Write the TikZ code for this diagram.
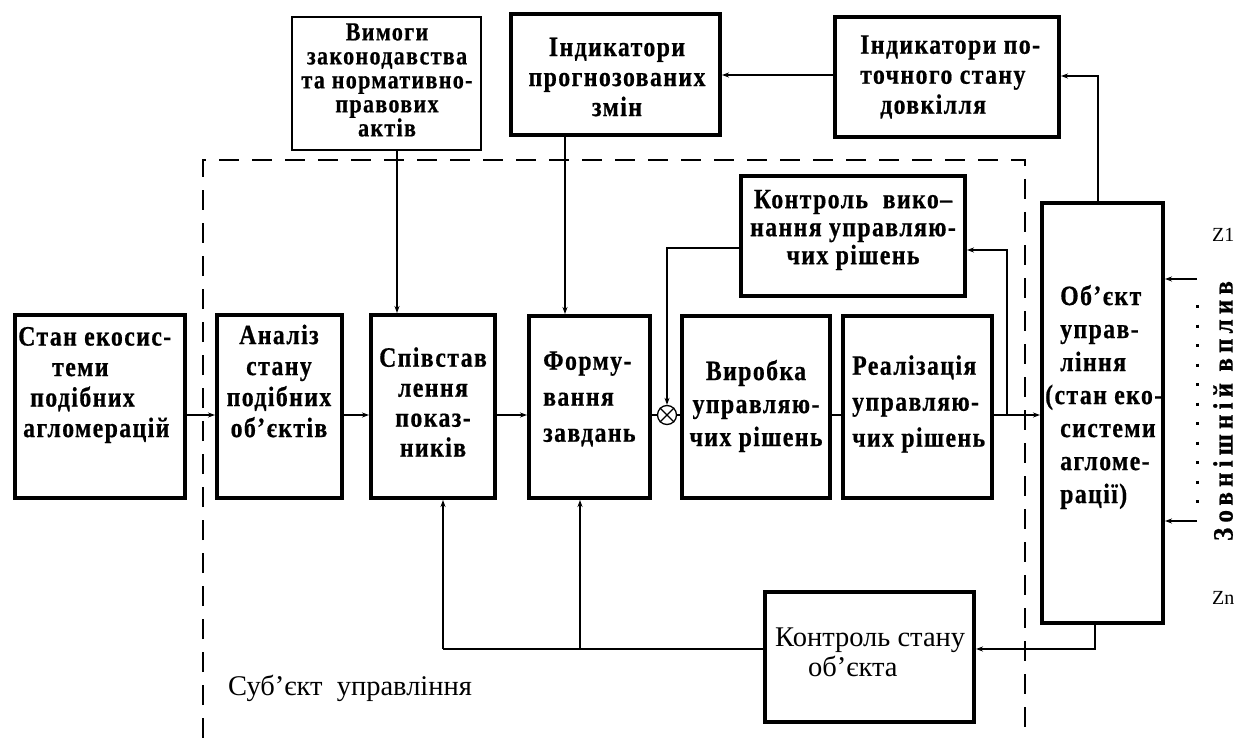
\documentclass[tikz,border=0pt]{standalone}
\usepackage{fontspec}
\setmainfont{Liberation Serif}
\newfontfamily\bxf{Liberation Serif}[FakeStretch=0.85,LetterSpace=5,BoldFeatures={FakeBold=0.6}]
\newfontfamily\vxf{Liberation Serif}[FakeStretch=0.9,LetterSpace=18,BoldFeatures={FakeBold=0.6}]
\usetikzlibrary{arrows.meta}
\begin{document}
\begin{tikzpicture}[x=1pt,y=-1pt,
  thickbox/.style={draw,line width=4pt,inner sep=0pt},
  thinbox/.style={draw,line width=2.8pt,inner sep=0pt},
  conn/.style={line width=1.3pt},
  arr/.style={conn,-{Stealth[length=7pt,width=5pt]}},
  btxt/.style={font=\bxf\bfseries\fontsize{28}{30}\selectfont,align=center,inner sep=0pt},
  ltxt/.style={btxt,align=left,anchor=west},
  rtxt/.style={font=\fontsize{28.5}{30}\selectfont,align=left,anchor=west,inner sep=0pt},
  frame/.style={line width=1.5pt,dash pattern=on 20pt off 13pt},
]
\useasboundingbox (0,0) rectangle (1237,738);

% dashed frame of the subject
\draw[frame] (203,738) -- (203,160) -- (1025,160) -- (1025,738);

% boxes
\node[thinbox,minimum width=189pt,minimum height=133pt] (vym) at (386.5,83.5) {};
\node[thickbox,minimum width=209pt,minimum height=121pt] (prog) at (615.5,74.5) {};
\node[thickbox,minimum width=224pt,minimum height=120pt] (poto) at (947,77) {};
\node[thickbox,minimum width=170pt,minimum height=183pt] (stan) at (100,406.5) {};
\node[thickbox,minimum width=125pt,minimum height=183pt] (anal) at (279.5,406.5) {};
\node[thickbox,minimum width=124pt,minimum height=183pt] (spiv) at (433,406.5) {};
\node[thickbox,minimum width=121pt,minimum height=182pt] (form) at (589.5,407) {};
\node[thickbox,minimum width=148pt,minimum height=182pt] (vyr) at (756,407) {};
\node[thickbox,minimum width=149pt,minimum height=182pt] (real) at (917.5,407) {};
\node[thickbox,minimum width=224pt,minimum height=120pt] (kvyk) at (853,236) {};
\node[thickbox,minimum width=121pt,minimum height=420pt] (obj) at (1102.5,413) {};
\node[thickbox,minimum width=209pt,minimum height=130pt] (kst) at (869.5,657) {};
\node[circle,draw,line width=1.3pt,minimum size=19pt,inner sep=0pt] (sum) at (667,415) {};
\draw[conn] (sum.north west) -- (sum.south east) (sum.north east) -- (sum.south west);

% texts
\node[btxt,font=\bxf\bfseries\fontsize{26}{24}\selectfont] (tvym) at (387,80) {Вимоги\\законодавства\\та нормативно-\\правових\\актів};
\node[btxt] (tprog) at (617,77) {Індикатори\\прогнозованих\\змін};
\node[ltxt] (tpoto) at (860,77) {Індикатори по-\\точного стану\\\hspace*{20pt}довкілля};
\node[ltxt,font=\bxf\bfseries\fontsize{28}{30.5}\selectfont] (tstan) at (18,385) {Стан екосис-\\\hspace*{34pt}теми\\\hspace*{12pt}подібних\\\hspace*{5pt}агломерацій};
\node[btxt,font=\bxf\bfseries\fontsize{28}{31}\selectfont] (tanal) at (279,381) {Аналіз\\стану\\подібних\\об’єктів};
\node[btxt] (tspiv) at (433,402) {Співстав\\лення\\показ-\\ників};
\node[ltxt,font=\bxf\bfseries\fontsize{28}{36}\selectfont] (tform) at (543,399) {Форму-\\вання\\завдань};
\node[btxt,font=\bxf\bfseries\fontsize{28}{33}\selectfont] (tvyr) at (756,406) {Виробка\\управляю-\\чих рішень};
\node[ltxt,font=\bxf\bfseries\fontsize{28}{36}\selectfont] (treal) at (852,404) {Реалізація\\управляю-\\чих рішень};
\node[btxt,font=\bxf\bfseries\fontsize{28}{28}\selectfont] (tkvyk) at (853,230) {Контроль~ вико–\\нання управляю-\\чих рішень};
\node[ltxt,font=\bxf\bfseries\fontsize{28}{33}\selectfont] (tobj) at (1045,397) {\hspace*{15pt}Об’єкт\\\hspace*{15pt}управ-\\\hspace*{15pt}ління\\(стан еко-\\\hspace*{15pt}системи\\\hspace*{15pt}агломе-\\\hspace*{15pt}рації)};
\node[rtxt] (tkst) at (775,652) {Контроль стану\\\hspace*{33pt}об’єкта};
\node[rtxt] (tsub) at (228,688) {Суб’єкт~ управління};
\node[font=\fontsize{20}{20}\selectfont,anchor=west,inner sep=0pt] (z1) at (1212,235) {Z1};
\node[font=\fontsize{20}{20}\selectfont,anchor=west,inner sep=0pt] (zn) at (1212,598) {Zn};
\node[font=\vxf\bfseries\fontsize{28}{28}\selectfont,rotate=90,inner sep=0pt] (zvpl) at (1223,411) {Зовнішній вплив};

% external influence
\coordinate (z1s) at (1197,279);
\coordinate (zns) at (1197,521);
\draw[arr] (z1s) -- (z1s -| obj.east);
\draw[arr] (zns) -- (zns -| obj.east);
\draw[line width=3pt,dash pattern=on 3pt off 16.5pt] (1197,305) -- (1197,505);

% main chain (all at y = 415)
\coordinate (row) at (0,415);
\draw[arr] (stan.east |- row) -- (anal.west |- row);
\draw[arr] (anal.east |- row) -- (spiv.west |- row);
\draw[arr] (spiv.east |- row) -- (form.west |- row);
\draw[conn] (form.east |- row) -- (sum.west);
\draw[conn] (sum.east) -- (vyr.west |- row);
\draw[conn] (vyr.east |- row) -- (real.west |- row);
\draw[arr] (real.east |- row) -- (obj.west |- row);

% feedback via control of execution
\coordinate (br) at (1007,415);
\draw[arr] (br) -- (1007,250) -- (1007,250 -| kvyk.east);
\draw[arr] (kvyk.west |- 0,248) -- (667,248) -- (sum.north);

% top inputs
\draw[arr] (vym.south -| 397,0) -- (spiv.north -| 397,0);
\draw[arr] (prog.south -| 565,0) -- (form.north -| 565,0);
\draw[arr] (poto.west |- 0,75) -- (prog.east |- 0,75);
\draw[arr] (obj.north -| 1098,0) -- (1098,76) -- (poto.east |- 0,76);

% bottom feedback
\draw[arr] (obj.south -| 1095,0) -- (1095,649) -- (kst.east |- 0,649);
\coordinate (j1) at (443,649);
\coordinate (j2) at (580,649);
\draw[conn] (kst.west |- 0,649) -- (j1);
\draw[arr] (j1) -- (spiv.south -| j1);
\draw[arr] (j2) -- (form.south -| j2);
\end{tikzpicture}
\end{document}
